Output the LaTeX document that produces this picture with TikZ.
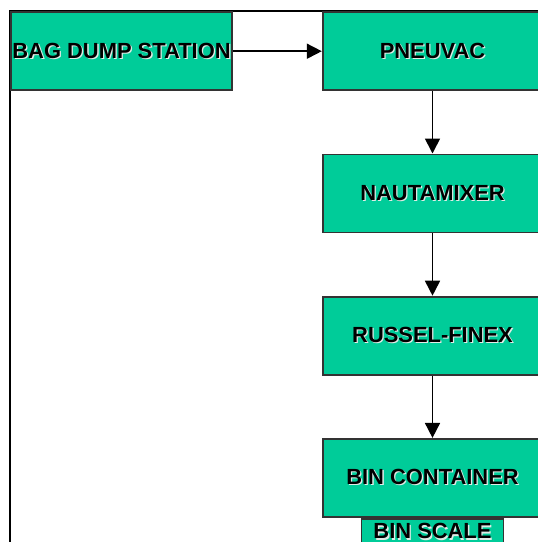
\documentclass[tikz,border=0pt]{standalone}
\usepackage{fontspec}
\setmainfont{Liberation Sans}
\usetikzlibrary{arrows.meta,positioning}
\definecolor{procgreen}{RGB}{0,204,153}
\definecolor{shadowgray}{RGB}{225,235,230}
\newcommand{\shtext}[1]{\makebox[0pt][l]{\kern1.3pt\raisebox{-1.3pt}{\color{shadowgray}#1}}#1}

\begin{document}
\begin{tikzpicture}[-{Triangle[length=15pt,width=15pt]}, line width=1.7pt]
\tikzstyle{blok} = [draw=black!80, line width=1.8pt, fill=procgreen, inner sep=0pt, minimum height=78pt, minimum width=219.6pt, font=\fontsize{21.9}{24}\selectfont\bfseries]

\useasboundingbox (0,0) rectangle (538pt,-542pt);
\clip (0,0) rectangle (538pt,-542pt);

% outer frame
\draw[-, line width=2.2pt] (10pt,-560pt) -- (10pt,-10.8pt) -- (560pt,-10.8pt);

\node [blok, minimum width=221pt] (bagdump) at (121.5pt,-51.2pt) {\shtext{BAG DUMP STATION}};

\node [blok] (pneuvac) [right of=bagdump, node distance=311pt] {\shtext{PNEUVAC}};
\draw (bagdump) -- (pneuvac);

\node [blok] (nautamixer) [below of=pneuvac, node distance=142.2pt] {\shtext{NAUTAMIXER}};
\draw (pneuvac) -- (nautamixer);

\node [blok] (russel) [below of=nautamixer, node distance=142.2pt] {\shtext{RUSSEL-FINEX}};
\draw (nautamixer) -- (russel);

\node [blok] (bincontainer) [below of=russel, node distance=142.2pt] {\shtext{BIN CONTAINER}};
\draw (russel) -- (bincontainer);

\node [blok, minimum width=142pt, minimum height=27pt, anchor=north] (binscale) at (bincontainer.south) {\shtext{BIN SCALE}};

\end{tikzpicture}
\end{document}
